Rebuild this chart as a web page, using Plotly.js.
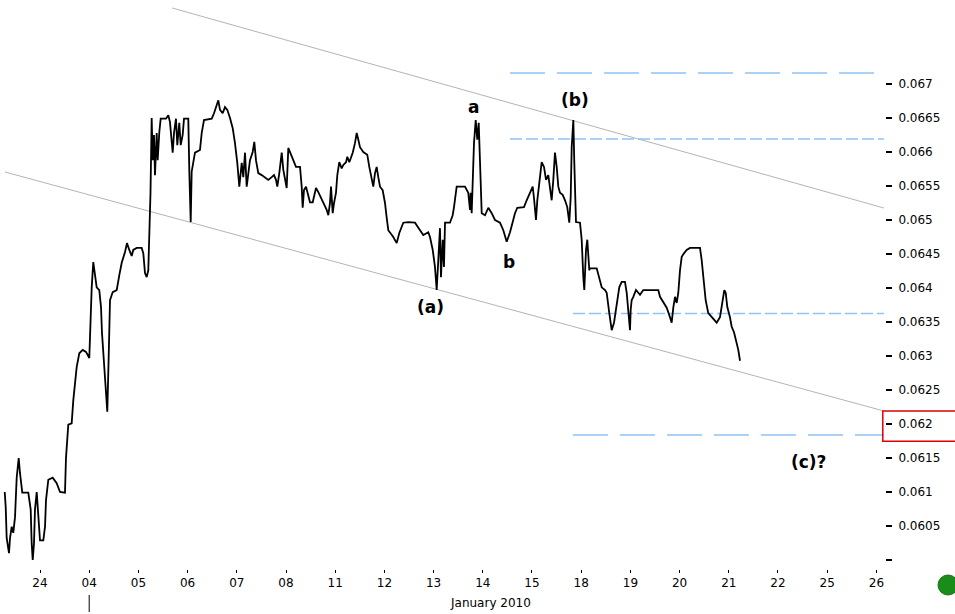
<!DOCTYPE html>
<html><head><meta charset="utf-8">
<script src="https://cdn.plot.ly/plotly-3.0.1.min.js"></script>
<style>html,body{margin:0;padding:0;background:#fff}#chart{width:955px;height:614px}</style>
</head><body><div id="chart"></div>
<script>
// Trading-day slots on the x axis (Dec 24 2009 … Jan 26 2010)
const dayIndex = [0,1,2,3,4,5,6,7,8,9,10,11,12,13,14,15,16,17];
const dayLabels = ['24','04','05','06','07','08','11','12','13','14','15','18','19','20','21','22','25','26'];

// Price path (x = trading-day slot, fractional; y = rate)
const xPos = [-0.717,-0.697,-0.677,-0.630,-0.610,-0.575,-0.543,-0.508,-0.474,-0.433,-0.407,-0.360,-0.238,-0.189,-0.169,-0.148,-0.122,-0.102,-0.067,-0.035,
0.000,0.067,0.102,0.122,0.169,0.258,0.339,0.407,0.508,0.528,0.575,0.644,0.677,0.746,0.799,0.868,0.935,1.002,1.016,1.051,
1.083,1.118,1.152,1.205,1.240,1.260,1.301,1.341,1.368,1.396,1.423,1.478,1.559,1.612,1.661,1.728,1.768,1.815,1.864,1.896,
1.965,2.067,2.100,2.134,2.169,2.201,2.236,2.246,2.270,2.291,2.317,2.337,2.372,2.392,2.425,2.453,2.561,2.608,2.642,2.697,
2.724,2.764,2.791,2.831,2.860,2.900,2.927,3.014,3.035,3.063,3.083,3.116,3.150,3.252,3.287,3.333,3.490,3.537,3.577,3.624,
3.659,3.713,3.760,3.807,3.862,3.917,3.963,4.010,4.051,4.100,4.132,4.167,4.201,4.234,4.268,4.323,4.356,4.390,4.437,4.506,
4.573,4.640,4.709,4.756,4.797,4.823,4.864,4.913,4.945,4.980,5.014,5.047,5.081,5.148,5.203,5.285,5.319,5.339,5.366,5.407,
5.453,5.488,5.543,5.610,5.657,5.705,5.772,5.827,5.860,5.894,5.915,5.949,5.976,6.016,6.043,6.083,6.132,6.165,6.220,6.246,
6.287,6.335,6.356,6.402,6.437,6.470,6.504,6.571,6.652,6.693,6.742,6.774,6.809,6.843,6.876,6.911,6.965,7.012,7.047,7.079,
7.181,7.250,7.303,7.384,7.486,7.622,7.724,7.791,7.892,7.927,7.982,8.028,8.063,8.095,8.130,8.150,8.185,8.211,8.232,8.333,
8.388,8.415,8.469,8.638,8.705,8.740,8.754,8.774,8.795,8.821,8.856,8.888,8.917,8.943,8.978,9.045,9.112,9.181,9.248,9.350,
9.417,9.486,9.553,9.608,9.654,9.701,9.791,9.837,9.892,9.959,10.014,10.041,10.081,10.108,10.148,10.197,10.244,10.285,10.331,10.366,
10.400,10.433,10.467,10.502,10.535,10.569,10.624,10.671,10.717,10.758,10.787,10.807,10.840,10.860,10.894,10.976,11.010,11.043,11.063,11.098,
11.124,11.165,11.179,11.315,11.368,11.417,11.484,11.518,11.571,11.620,11.667,11.721,11.774,11.823,11.890,11.925,11.957,11.992,12.006,12.026,
12.059,12.114,12.161,12.195,12.262,12.567,12.602,12.669,12.738,12.805,12.839,12.872,12.907,12.941,12.974,13.008,13.043,13.089,13.144,13.211,
13.415,13.449,13.482,13.530,13.583,13.652,13.754,13.821,13.876,13.909,13.937,13.970,14.024,14.059,14.106,14.146,14.193,14.228];
const rate = [0.06100,0.06078,0.06032,0.06010,0.06032,0.06049,0.06040,0.06063,0.06121,0.06150,0.06128,0.06099,0.06099,0.06074,0.06025,0.06000,0.06025,0.06074,0.06100,0.06063,
0.06029,0.06029,0.06049,0.06088,0.06118,0.06121,0.06113,0.06100,0.06099,0.06150,0.06199,0.06201,0.06235,0.06284,0.06304,0.06309,0.06306,0.06297,0.06334,0.06401,
0.06438,0.06422,0.06401,0.06397,0.06372,0.06334,0.06284,0.06240,0.06218,0.06299,0.06382,0.06394,0.06397,0.06419,0.06437,0.06453,0.06466,0.06456,0.06447,0.06456,
0.06459,0.06459,0.06451,0.06422,0.06416,0.06426,0.06500,0.06540,0.06650,0.06588,0.06625,0.06566,0.06628,0.06588,0.06629,0.06649,0.06649,0.06654,0.06644,0.06599,
0.06628,0.06649,0.06610,0.06643,0.06610,0.06625,0.06649,0.06649,0.06571,0.06497,0.06571,0.06585,0.06599,0.06603,0.06628,0.06647,0.06649,0.06657,0.06666,0.06676,
0.06662,0.06657,0.06666,0.06662,0.06650,0.06635,0.06613,0.06584,0.06549,0.06584,0.06563,0.06599,0.06549,0.06569,0.06588,0.06600,0.06615,0.06588,0.06569,0.06566,
0.06563,0.06559,0.06563,0.06566,0.06559,0.06549,0.06569,0.06599,0.06574,0.06559,0.06547,0.06606,0.06600,0.06588,0.06578,0.06578,0.06549,0.06518,0.06544,0.06549,
0.06534,0.06526,0.06526,0.06547,0.06541,0.06534,0.06525,0.06515,0.06507,0.06525,0.06549,0.06510,0.06525,0.06540,0.06566,0.06585,0.06576,0.06581,0.06585,0.06593,
0.06585,0.06593,0.06599,0.06613,0.06628,0.06618,0.06607,0.06600,0.06596,0.06578,0.06559,0.06549,0.06569,0.06578,0.06563,0.06549,0.06544,0.06525,0.06503,0.06485,
0.06475,0.06466,0.06481,0.06496,0.06497,0.06496,0.06485,0.06478,0.06482,0.06475,0.06456,0.06431,0.06397,0.06441,0.06488,0.06416,0.06471,0.06431,0.06496,0.06496,
0.06507,0.06519,0.06549,0.06549,0.06540,0.06515,0.06540,0.06510,0.06559,0.06613,0.06647,0.06618,0.06643,0.06593,0.06510,0.06507,0.06518,0.06510,0.06500,0.06496,
0.06485,0.06468,0.06482,0.06497,0.06510,0.06518,0.06518,0.06519,0.06529,0.06540,0.06549,0.06532,0.06500,0.06529,0.06559,0.06585,0.06578,0.06559,0.06566,0.06544,
0.06529,0.06559,0.06599,0.06578,0.06549,0.06540,0.06537,0.06529,0.06519,0.06496,0.06534,0.06607,0.06647,0.06584,0.06497,0.06496,0.06471,0.06416,0.06397,0.06456,
0.06471,0.06426,0.06429,0.06429,0.06416,0.06401,0.06397,0.06393,0.06363,0.06338,0.06349,0.06378,0.06401,0.06409,0.06409,0.06393,0.06363,0.06338,0.06368,0.06382,
0.06387,0.06397,0.06393,0.06390,0.06397,0.06397,0.06387,0.06378,0.06371,0.06357,0.06349,0.06371,0.06387,0.06378,0.06393,0.06426,0.06446,0.06451,0.06456,0.06459,
0.06459,0.06441,0.06412,0.06382,0.06363,0.06357,0.06349,0.06357,0.06382,0.06397,0.06393,0.06372,0.06357,0.06343,0.06335,0.06324,0.06309,0.06293];

// Channel (trend) lines
const channelUpperX = [2.683, 17.154];
const channelUpperY = [0.068118, 0.065176];
const channelLowerX = [-0.711, 17.154];
const channelLowerY = [0.065706, 0.062191];

// Horizontal target levels
const levelValues = [0.067162, 0.066191, 0.063625, 0.061838];
const levelStart  = [9.553, 9.553, 10.833, 10.833];
const levelEnd    = [17.154, 17.154, 17.154, 17.154];
const levelDash   = ['35px,12px', '12px,4px', '12px,4px', '35px,12px'];

// Wave labels
const waveLabels = ['a', '(b)', 'b', '(a)', '(c)?'];
const waveX = [8.821, 10.874, 9.533, 7.947, 15.610];
const waveY = [0.066662, 0.066765, 0.064382, 0.063721, 0.061441];

// Y ticks
const yTickVals = [0.0600,0.0605,0.0610,0.0615,0.0620,0.0625,0.0630,0.0635,0.0640,0.0645,0.0650,0.0655,0.0660,0.0665,0.0670];
const yTickText = ['','0.0605','0.061','0.0615','0.062','0.0625','0.063','0.0635','0.064','0.0645','0.065','0.0655','0.066','0.0665','0.067'];

const FONT = 'DejaVu Sans, Verdana, sans-serif';
const traces = [];
traces.push({x: channelUpperX, y: channelUpperY, mode: 'lines', line: {color: '#b4b4b4', width: 1}, hoverinfo: 'skip'});
traces.push({x: channelLowerX, y: channelLowerY, mode: 'lines', line: {color: '#b4b4b4', width: 1}, hoverinfo: 'skip'});
for (let i = 0; i < levelValues.length; i++) {
  traces.push({x: [levelStart[i], levelEnd[i]], y: [levelValues[i], levelValues[i]], mode: 'lines',
    line: {color: '#8fc4f8', width: 1.5, dash: levelDash[i]}, hoverinfo: 'skip'});
}
traces.push({x: xPos, y: rate, mode: 'lines', line: {color: '#000', width: 1.8}});

const annotations = waveLabels.map((t, i) => ({
  x: waveX[i], y: waveY[i], xref: 'x', yref: 'y', text: '<b>' + t + '</b>', showarrow: false,
  font: {family: FONT, size: 17, color: '#000'}, xanchor: 'center', yanchor: 'middle'
}));
annotations.push({x: 0.5537, y: -0.0600, xref: 'paper', yref: 'paper', text: 'January 2010', showarrow: false,
  font: {family: FONT, size: 12, color: '#000'}, xanchor: 'center', yanchor: 'middle'});

const layout = {
  width: 955, height: 614,
  margin: {l: 0, r: 70, t: 0, b: 45},
  paper_bgcolor: '#fff', plot_bgcolor: '#fff',
  showlegend: false, hovermode: false,
  xaxis: {range: [-0.813, 17.175], tickmode: 'array', tickvals: dayIndex, ticktext: dayLabels,
    showgrid: false, zeroline: false, showline: false, ticks: 'outside', ticklen: 3, tickcolor: '#000',
    tickfont: {family: FONT, size: 12, color: '#000'}, fixedrange: true},
  yaxis: {range: [0.0598676, 0.0682353], side: 'right', tickmode: 'array', tickvals: yTickVals, ticktext: yTickText,
    showgrid: false, zeroline: false, showline: false, ticks: 'outside', ticklen: 6, tickwidth: 1.5, tickcolor: '#000',
    ticklabelstandoff: 4, tickfont: {family: FONT, size: 12, color: '#000'}, fixedrange: true},
  annotations: annotations,
  shapes: [
    {type: 'line', xref: 'x', yref: 'paper', x0: 1, x1: 1, y0: -0.0457, y1: -0.0756, line: {color: '#000', width: 1}},
    {type: 'rect', xref: 'paper', yref: 'paper', x0: 0.9975, x1: 1.085, y0: 0.2777, y1: 0.2245, line: {color: '#e00000', width: 1.5}},
    {type: 'circle', xref: 'paper', yref: 'paper', x0: 1.0599, x1: 1.0825, y0: -0.0105, y1: -0.0457, fillcolor: '#1a8c1a', line: {color: '#167516', width: 1}}
  ]
};
Plotly.newPlot('chart', traces, layout, {displayModeBar: false, staticPlot: true});
</script>
</body></html>
